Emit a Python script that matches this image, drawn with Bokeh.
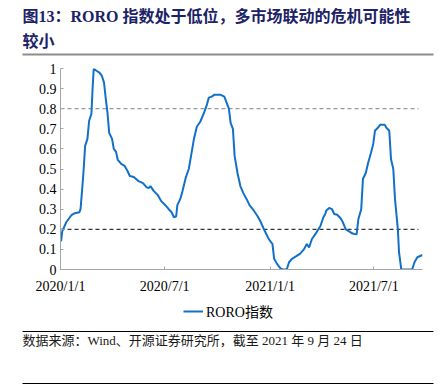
import pandas as pd
from bokeh.plotting import figure
from bokeh.models import Label, Legend, LegendItem, FixedTicker, Range1d
from bokeh.layouts import column
from bokeh.embed import file_html
from bokeh.resources import INLINE

# ---------------- data ----------------
dates = [
    "2020-01-02", "2020-01-04", "2020-01-11", "2020-01-20", "2020-01-26", "2020-02-03",
    "2020-02-05", "2020-02-07", "2020-02-10", "2020-02-13", "2020-02-17", "2020-02-20",
    "2020-02-24", "2020-02-26", "2020-02-28", "2020-03-03", "2020-03-09", "2020-03-13",
    "2020-03-17", "2020-03-20", "2020-03-23", "2020-03-26", "2020-03-31", "2020-04-03",
    "2020-04-07", "2020-04-10", "2020-04-16", "2020-04-22", "2020-04-27", "2020-05-01",
    "2020-05-08", "2020-05-16", "2020-05-24", "2020-05-30", "2020-06-03", "2020-06-06",
    "2020-06-12", "2020-06-19", "2020-06-25", "2020-07-02", "2020-07-08", "2020-07-13",
    "2020-07-17", "2020-07-21", "2020-07-23", "2020-07-28", "2020-08-01", "2020-08-07",
    "2020-08-12", "2020-08-15", "2020-08-21", "2020-08-26", "2020-09-01", "2020-09-07",
    "2020-09-12", "2020-09-16", "2020-09-21", "2020-09-26", "2020-10-06", "2020-10-13",
    "2020-10-17", "2020-10-21", "2020-10-24", "2020-10-28", "2020-10-31", "2020-11-05",
    "2020-11-10", "2020-11-16", "2020-11-21", "2020-11-26", "2020-12-03", "2020-12-09",
    "2020-12-15", "2020-12-22", "2020-12-30", "2021-01-05", "2021-01-08", "2021-01-13",
    "2021-01-19", "2021-01-23", "2021-01-30", "2021-02-03", "2021-02-08", "2021-02-15",
    "2021-02-22", "2021-03-01", "2021-03-06", "2021-03-10", "2021-03-15", "2021-03-23",
    "2021-03-30", "2021-04-01", "2021-04-04", "2021-04-07", "2021-04-09", "2021-04-14",
    "2021-04-19", "2021-04-23", "2021-04-28", "2021-05-04", "2021-05-08", "2021-05-13",
    "2021-05-19", "2021-05-24", "2021-05-28", "2021-06-01", "2021-06-04", "2021-06-09",
    "2021-06-12", "2021-06-17", "2021-06-21", "2021-06-26", "2021-06-30", "2021-07-03",
    "2021-07-08", "2021-07-12", "2021-07-20", "2021-07-23", "2021-07-28", "2021-07-31",
    "2021-08-04", "2021-08-07", "2021-08-12", "2021-08-14", "2021-08-18", "2021-09-06",
    "2021-09-10", "2021-09-15", "2021-09-24",
]
roro = [
    0.14, 0.19, 0.235, 0.27, 0.28, 0.285,
    0.30, 0.37, 0.48, 0.615, 0.65, 0.74,
    0.775, 0.90, 1.0, 0.99, 0.98, 0.965,
    0.93, 0.85, 0.78, 0.68, 0.65, 0.60,
    0.585, 0.545, 0.525, 0.515, 0.49, 0.465,
    0.46, 0.44, 0.43, 0.41, 0.405, 0.415,
    0.39, 0.37, 0.34, 0.32, 0.30, 0.285,
    0.26, 0.265, 0.32, 0.35, 0.39, 0.46,
    0.50, 0.55, 0.65, 0.71, 0.735, 0.775,
    0.815, 0.855, 0.86, 0.87, 0.87, 0.86,
    0.83, 0.80, 0.73, 0.70, 0.565, 0.48,
    0.415, 0.375, 0.35, 0.32, 0.295, 0.27,
    0.24, 0.195, 0.15, 0.127, 0.053, 0.028,
    0.006, 0.0, 0.0, 0.036, 0.053, 0.065,
    0.078, 0.10, 0.127, 0.11, 0.152, 0.185,
    0.218, 0.235, 0.26, 0.275, 0.293, 0.306,
    0.30, 0.276, 0.272, 0.255, 0.235, 0.20,
    0.19, 0.18, 0.177, 0.175, 0.25, 0.30,
    0.45, 0.48, 0.53, 0.58, 0.625, 0.69,
    0.705, 0.72, 0.72, 0.705, 0.69, 0.55,
    0.50, 0.35, 0.20, 0.086, 0.0, 0.0,
    0.036, 0.061, 0.072,
]
threshold_dates = ["2020-01-01", "2021-09-17"]
upper_line = [0.8, 0.8]
lower_line = [0.2, 0.2]

x_start = "2020-01-01"
x_end = "2021-09-24"
x_tick_labels = ["2020/1/1", "2020/7/1", "2021/1/1", "2021/7/1"]
y_ticks = [0, 0.1, 0.2, 0.3, 0.4, 0.5, 0.6, 0.7, 0.8, 0.9, 1]
y_tick_labels = ["0", "0.1", "0.2", "0.3", "0.4", "0.5", "0.6", "0.7", "0.8", "0.9", "1"]

title_line1 = "图13：RORO 指数处于低位，多市场联动的危机可能性"
title_line2 = "较小"
series_name = "RORO指数"
source_text = "数据来源：Wind、开源证券研究所，截至 2021 年 9 月 24 日"

# ---------------- helpers ----------------
origin = pd.Timestamp(x_start)


def to_days(ds):
    return [int((pd.Timestamp(d) - origin).days) for d in ds]


SERIF = "'Liberation Serif', 'Noto Sans CJK SC'"
W = 446
LINE_COLOR = "#1270c8"


def blank(h):
    f = figure(width=W, height=h, x_range=Range1d(0, W), y_range=Range1d(h, 0),
               output_backend="svg", toolbar_location=None, min_border=0,
               x_axis_location=None, y_axis_location=None, frame_align=False)
    f.grid.visible = False
    f.outline_line_color = None
    return f


# ---------------- title panel (page y 0..58) ----------------
tf = blank(58)
tf.add_layout(Label(x=22, y=16, text=title_line1, text_font=SERIF, text_font_size="16px",
                    text_font_style="bold", text_color="#1b2266", text_baseline="middle"))
tf.add_layout(Label(x=22, y=41, text=title_line2, text_font=SERIF, text_font_size="16px",
                    text_font_style="bold", text_color="#1b2266", text_baseline="middle"))
tf.segment(x0=[22], y0=[54], x1=[433], y1=[54], line_color="#8c8c8c", line_width=2)

# ---------------- main chart (page y 58..300) ----------------
x_end_days = to_days([x_end])[0]
p = figure(width=W, height=242, x_range=Range1d(0, x_end_days), y_range=Range1d(0, 1),
           output_backend="svg", toolbar_location=None, frame_align=False,
           min_border_left=60, min_border_right=24, min_border_top=10, min_border_bottom=31)
p.grid.visible = False
p.outline_line_color = None

xt = to_days([pd.Timestamp(s) for s in x_tick_labels])
p.xaxis.ticker = FixedTicker(ticks=xt)
p.xaxis.major_label_overrides = {t: l for t, l in zip(xt, x_tick_labels)}
p.yaxis.ticker = FixedTicker(ticks=y_ticks)
p.yaxis.major_label_overrides = {t: l for t, l in zip(y_ticks, y_tick_labels)}

for ax in (p.xaxis[0], p.yaxis[0]):
    ax.axis_line_color = "#a6a6a6"
    ax.major_tick_line_color = "#a6a6a6"
    ax.major_tick_in = 3
    ax.major_tick_out = 0
    ax.minor_tick_line_color = None
    ax.major_label_text_font = SERIF
    ax.major_label_text_font_size = "14px"
    ax.major_label_text_color = "#000000"
p.xaxis.major_label_standoff = 9
p.yaxis.major_label_standoff = 4

p.line(to_days(threshold_dates), upper_line, line_color="#7f7f7f", line_dash="4 3", line_width=1)
p.line(to_days(threshold_dates), lower_line, line_color="#000000", line_dash="4 3", line_width=1)
p.line(to_days(dates), roro, line_color=LINE_COLOR, line_width=2)

# ---------------- legend strip (page y 300..326) ----------------
lf = blank(26)
nan = float("nan")
key = lf.line(x=[nan, nan], y=[nan, nan], line_color=LINE_COLOR, line_width=2)
legend = Legend(items=[LegendItem(label=series_name, renderers=[key])],
                location=(183, 5), orientation="horizontal", padding=0, margin=0,
                spacing=0, glyph_width=20, glyph_height=16, label_height=16,
                label_standoff=3, border_line_color=None,
                background_fill_alpha=0, label_text_font=SERIF,
                label_text_font_size="14px", label_text_color="#000000")
lf.add_layout(legend)

# ---------------- source panel (page y 326..386) ----------------
sf = blank(60)
sf.segment(x0=[22], y0=[5], x1=[433], y1=[5], line_color="#000000", line_width=1)
sf.add_layout(Label(x=22, y=14, text=source_text, text_font=SERIF, text_font_size="13px",
                    text_color="#1a1a1a", text_baseline="middle"))
sf.segment(x0=[22], y0=[57], x1=[433], y1=[57], line_color="#000000", line_width=1)

layout = column(tf, p, lf, sf, spacing=0)
open("out.html", "w").write(file_html(layout, INLINE))
